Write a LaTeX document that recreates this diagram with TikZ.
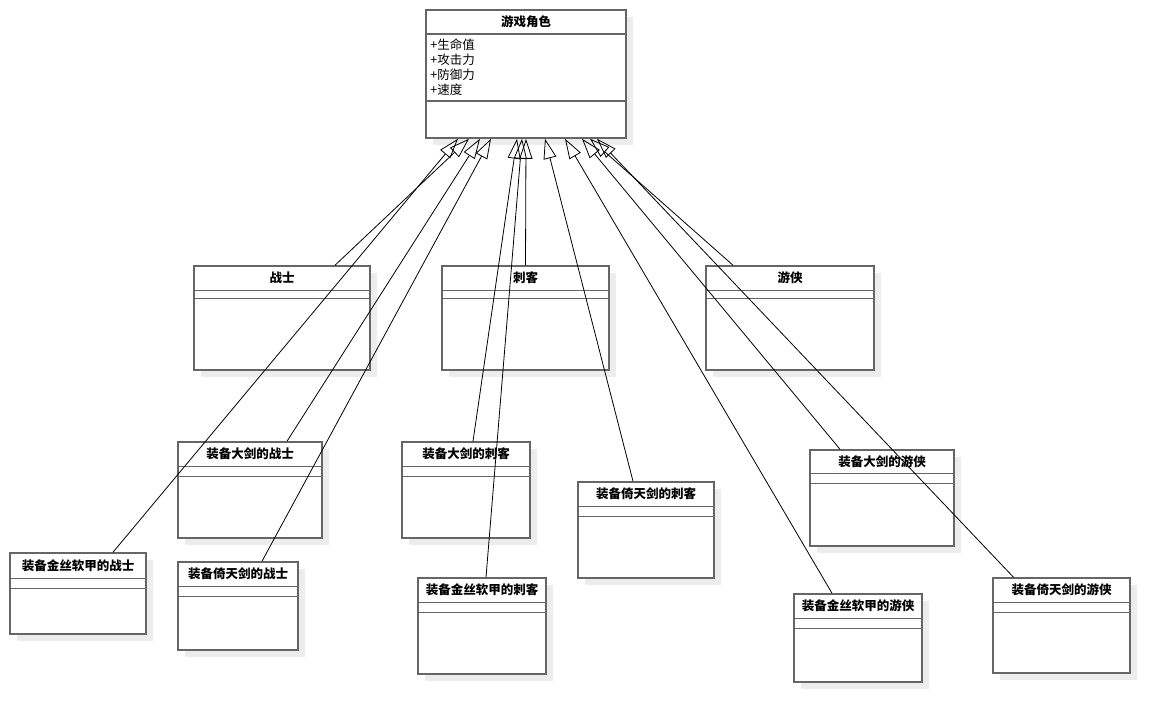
\documentclass[tikz,border=0pt]{standalone}
\usepackage{fontspec}
\setmainfont{Noto Sans CJK SC}
\usetikzlibrary{arrows.meta,shadows}
\begin{document}
\begin{tikzpicture}
  [x=1pt,y=1pt,
   cls/.style={rectangle,draw=black!60,line width=1.5pt,fill=white,inner sep=0pt,
     drop shadow={shadow xshift=7pt,shadow yshift=-7pt,fill=black!7,opacity=1}},
   ttl/.style={font=\fontsize{12.5}{14}\selectfont\bfseries,inner sep=0pt},
   sep/.style={draw=black!60,line width=1.5pt},
   inh/.style={line width=0.8pt,-{Triangle[open,length=20pt,width=13pt]}}]
\useasboundingbox (0,0) rectangle (1170,-722);

% base class
\node (root)[cls,minimum width=200,minimum height=128] at (526,-74) {};
\node (root-t)[ttl] at ([yshift=-12.5]root.north) {游戏角色};
\node (root-a)[anchor=north west,align=left,inner sep=0pt,
  font=\fontsize{12.5}{15}\selectfont] at ([xshift=5,yshift=-29]root.north west)
  {+生命值\\+攻击力\\+防御力\\+速度};
\draw[sep] ([yshift=-25]root.north west) -- ([yshift=-25]root.north east)
  ([yshift=-92]root.north west) -- ([yshift=-92]root.north east);

% roles
\node (zs)[cls,minimum width=176,minimum height=104] at (282,-318) {};
\node (ck)[cls,minimum width=167,minimum height=104] at (525.5,-318) {};
\node (yx)[cls,minimum width=168,minimum height=104] at (790,-318) {};
\node (zs-t)[ttl] at ([yshift=-12.5]zs.north) {战士};
\node (ck-t)[ttl] at ([yshift=-12.5]ck.north) {刺客};
\node (yx-t)[ttl] at ([yshift=-12.5]yx.north) {游侠};

% equipped roles
\node (zs1)[cls,minimum width=144,minimum height=96] at (250,-490) {};
\node (zs2)[cls,minimum width=136,minimum height=81] at (78,-593.5) {};
\node (zs3)[cls,minimum width=120,minimum height=88] at (238,-606) {};
\node (ck1)[cls,minimum width=128,minimum height=96] at (466,-490) {};
\node (ck2)[cls,minimum width=128,minimum height=96] at (482,-626) {};
\node (ck3)[cls,minimum width=136,minimum height=96] at (646,-530) {};
\node (yx1)[cls,minimum width=144,minimum height=96] at (882,-498) {};
\node (yx2)[cls,minimum width=128,minimum height=88] at (858,-638) {};
\node (yx3)[cls,minimum width=137,minimum height=95] at (1061.5,-625.5) {};
\node (zs1-t)[ttl] at ([yshift=-12.5]zs1.north) {装备大剑的战士};
\node (zs2-t)[ttl] at ([yshift=-13]zs2.north) {装备金丝软甲的战士};
\node (zs3-t)[ttl] at ([yshift=-12.5]zs3.north) {装备倚天剑的战士};
\node (ck1-t)[ttl] at ([yshift=-12.5]ck1.north) {装备大剑的刺客};
\node (ck2-t)[ttl] at ([yshift=-12.5]ck2.north) {装备金丝软甲的刺客};
\node (ck3-t)[ttl] at ([yshift=-12.5]ck3.north) {装备倚天剑的刺客};
\node (yx1-t)[ttl] at ([yshift=-12]yx1.north) {装备大剑的游侠};
\node (yx2-t)[ttl] at ([yshift=-12.5]yx2.north) {装备金丝软甲的游侠};
\node (yx3-t)[ttl] at ([yshift=-12.5]yx3.north) {装备倚天剑的游侠};

% compartments
\draw[sep] ([yshift=-25]zs.north west) -- ([yshift=-25]zs.north east) ([yshift=-33]zs.north west) -- ([yshift=-33]zs.north east);
\draw[sep] ([yshift=-25]ck.north west) -- ([yshift=-25]ck.north east) ([yshift=-33]ck.north west) -- ([yshift=-33]ck.north east);
\draw[sep] ([yshift=-25]yx.north west) -- ([yshift=-25]yx.north east) ([yshift=-33]yx.north west) -- ([yshift=-33]yx.north east);
\draw[sep] ([yshift=-25]zs1.north west) -- ([yshift=-25]zs1.north east) ([yshift=-35]zs1.north west) -- ([yshift=-35]zs1.north east);
\draw[sep] ([yshift=-26]zs2.north west) -- ([yshift=-26]zs2.north east) ([yshift=-36]zs2.north west) -- ([yshift=-36]zs2.north east);
\draw[sep] ([yshift=-25]zs3.north west) -- ([yshift=-25]zs3.north east) ([yshift=-35]zs3.north west) -- ([yshift=-35]zs3.north east);
\draw[sep] ([yshift=-25]ck1.north west) -- ([yshift=-25]ck1.north east) ([yshift=-35]ck1.north west) -- ([yshift=-35]ck1.north east);
\draw[sep] ([yshift=-25]ck2.north west) -- ([yshift=-25]ck2.north east) ([yshift=-35]ck2.north west) -- ([yshift=-35]ck2.north east);
\draw[sep] ([yshift=-25]ck3.north west) -- ([yshift=-25]ck3.north east) ([yshift=-35]ck3.north west) -- ([yshift=-35]ck3.north east);
\draw[sep] ([yshift=-24]yx1.north west) -- ([yshift=-24]yx1.north east) ([yshift=-34]yx1.north west) -- ([yshift=-34]yx1.north east);
\draw[sep] ([yshift=-25]yx2.north west) -- ([yshift=-25]yx2.north east) ([yshift=-35]yx2.north west) -- ([yshift=-35]yx2.north east);
\draw[sep] ([yshift=-25]yx3.north west) -- ([yshift=-25]yx3.north east) ([yshift=-35]yx3.north west) -- ([yshift=-35]yx3.north east);

% inheritance
\path[inh]
  ([xshift=35]zs2.north) edge ([xshift=-68]root.south)
  ([xshift=53]zs.north) edge ([xshift=-57]root.south)
  ([xshift=37]zs1.north) edge ([xshift=-46]root.south)
  ([xshift=24]zs3.north) edge ([xshift=-35]root.south);
\path[inh]
  ([xshift=7]ck1.north) edge ([xshift=-9]root.south)
  ([xshift=4]ck2.north) edge ([xshift=-4]root.south)
  (ck.north) edge (root.south)
  ([xshift=-13]ck3.north) edge ([xshift=19]root.south);
\path[inh]
  ([xshift=-26]yx2.north) edge ([xshift=39]root.south)
  ([xshift=-42]yx1.north) edge ([xshift=56]root.south)
  ([xshift=-57]yx.north) edge ([xshift=64]root.south)
  ([xshift=-48]yx3.north) edge ([xshift=71]root.south);

\end{tikzpicture}
\end{document}
